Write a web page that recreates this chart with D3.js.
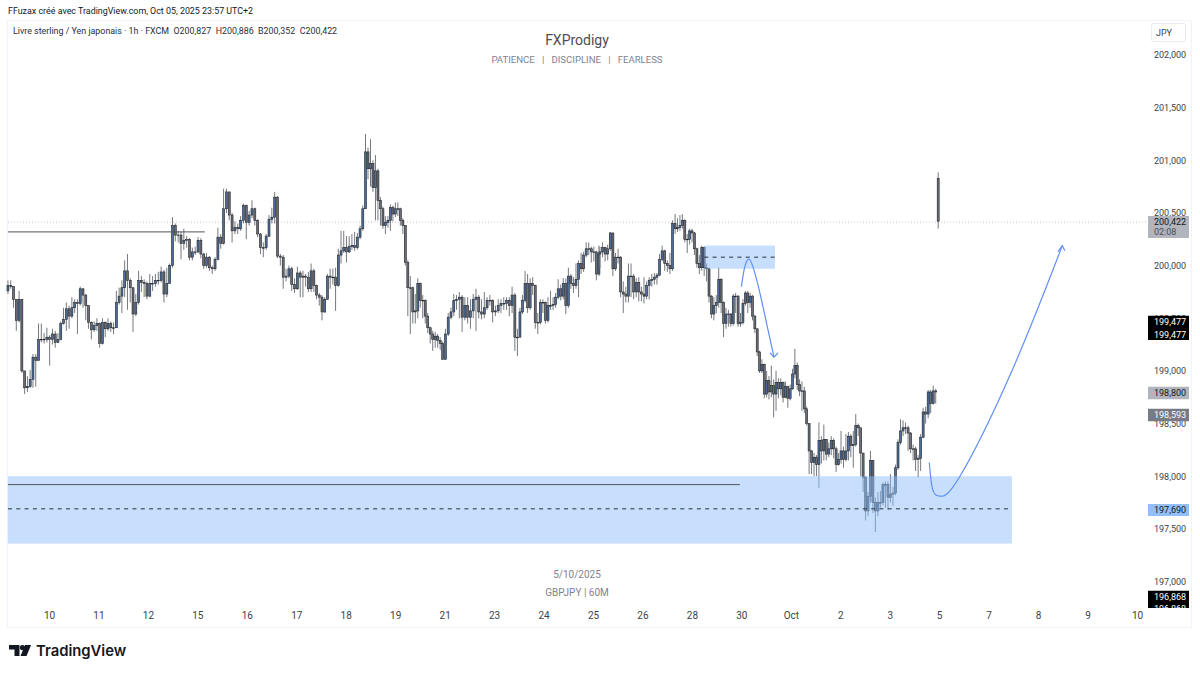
<!DOCTYPE html>
<html>
<head>
<meta charset="utf-8">
<script src="https://cdn.jsdelivr.net/npm/d3@7"></script>
<style>
html, body { margin: 0; background: #fff; }
svg { display: block; font-family: Roboto, sans-serif; }
</style>
</head>
<body>
<svg id="vis" width="1200" height="673"></svg>
<script>
// candles as [close, high, low], open is the previous close
var barsSep = [
[199.81,199.86,199.73],[199.80,199.86,199.78],[199.68,199.80,199.60],[199.48,199.68,199.38],[199.68,199.76,199.46],[199.00,199.68,198.98],[198.84,199.00,198.78],[198.85,198.95,198.80],[198.92,199.01,198.84],[199.13,199.16,198.84],
[199.10,199.16,198.85],[199.30,199.45,199.10],[199.30,199.45,199.27],[199.30,199.36,199.26],[199.32,199.41,199.27],[199.30,199.34,199.05],[199.35,199.40,199.25],[199.27,199.38,199.22],[199.30,199.36,199.27],[199.45,199.47,199.29],
[199.49,199.60,199.44],[199.59,199.65,199.38],[199.52,199.62,199.40],[199.60,199.70,199.50],[199.65,199.68,199.55],[199.64,199.68,199.35],[199.78,199.80,199.62],[199.72,199.78,199.60],[199.62,199.73,199.48],[199.46,199.62,199.40],
[199.39,199.47,199.30],[199.43,199.47,199.37],[199.45,199.50,199.38],[199.26,199.46,199.22],[199.46,199.50,199.25],[199.40,199.47,199.32],[199.45,199.50,199.38],[199.41,199.47,199.37],[199.41,199.46,199.35],[199.65,199.76,199.41],
[199.71,199.79,199.63],[199.79,199.86,199.55],[199.95,200.05,199.70],[199.86,200.11,199.58],[199.79,199.88,199.65],[199.54,199.68,199.37],[199.65,199.73,199.52],[199.86,199.95,199.63],[199.84,199.90,199.75],[199.83,199.87,199.70],
[199.71,199.85,199.68],[199.83,199.92,199.70],[199.83,199.90,199.76],[199.86,199.92,199.80],[199.86,199.94,199.82],[199.94,199.99,199.84],[199.73,199.96,199.65],[199.83,199.98,199.70],[200.00,200.02,199.83],[200.38,200.46,199.98],
[200.29,200.40,200.23],[200.29,200.33,200.22],[200.21,200.32,200.06],[200.24,200.35,200.15],[200.25,200.28,200.17],[200.08,200.26,200.05],[200.13,200.17,200.05],[200.13,200.18,200.10],[200.24,200.27,200.12],[200.11,200.26,200.07],
[200.00,200.12,199.97],[200.08,200.12,199.98],[199.98,200.09,199.95],[199.97,200.00,199.92],[200.06,200.08,199.95],[200.27,200.36,200.05],[200.21,200.30,200.16],[200.54,200.73,200.20],[200.70,200.73,200.50],[200.48,200.70,200.43],
[200.33,200.50,200.22],[200.36,200.42,200.30],[200.35,200.40,200.30],[200.43,200.47,200.33],[200.57,200.59,200.40],[200.41,200.58,200.25],[200.48,200.52,200.38],[200.54,200.62,200.45],[200.43,200.55,200.38],[200.30,200.44,200.27],
[200.17,200.31,200.11],[200.17,200.22,200.08],[200.28,200.30,200.15],[200.44,200.48,200.27],[200.46,200.55,200.40],[200.65,200.70,200.40],[200.09,200.66,200.07],[200.08,200.11,200.00],[199.89,200.10,199.78],[199.90,199.97,199.85],
[199.97,200.00,199.88],[199.82,199.99,199.76],[199.78,199.88,199.74],[199.93,199.99,199.77],[199.89,199.95,199.70]
];
var barsMid = [
[199.90,199.95,199.70],[199.89,199.92,199.80],[199.78,199.94,199.75],[199.95,200.02,199.75],[199.81,199.97,199.75],[199.72,199.82,199.68],[199.70,199.74,199.62],[199.56,199.72,199.48],[199.68,199.70,199.55],[199.90,199.92,199.68],
[199.89,199.97,199.78],[199.89,199.97,199.82],[199.81,199.98,199.57],[200.10,200.16,199.80],[200.14,200.33,200.02],[200.17,200.33,200.12],[200.13,200.28,200.03],[200.18,200.28,200.12],[200.19,200.30,200.15],[200.17,200.32,200.14],
[200.27,200.31,200.15],[200.35,200.38,200.25],[200.54,200.57,200.33],[201.08,201.25,200.62],[200.92,201.12,200.82],[200.97,201.20,200.75],[200.74,201.00,200.70],[200.90,201.05,200.43],[200.62,200.92,200.43],[200.54,200.65,200.38],
[200.38,200.56,200.35],[200.41,200.47,200.30],[200.43,200.47,200.36],[200.55,200.58,200.33],[200.49,200.57,200.42],[200.54,200.60,200.46],[200.54,200.60,200.47],[200.43,200.55,200.38],[200.38,200.45,200.30],[200.03,200.38,200.00],
[199.79,200.05,199.52],[199.79,199.90,199.35],[199.56,199.80,199.45],[199.57,199.73,199.45],[199.83,199.88,199.50],[199.67,199.84,199.60],[199.67,199.72,199.50],[199.52,199.68,199.45],[199.41,199.55,199.36],[199.35,199.42,199.26],
[199.30,199.38,199.19],[199.33,199.37,199.22],[199.29,199.35,199.22],[199.26,199.32,199.20],[199.11,199.28,199.11],[199.35,199.40,199.11],[199.51,199.55,199.33],[199.56,199.60,199.49],[199.67,199.73,199.52],[199.68,199.72,199.58],
[199.70,199.75,199.50],[199.51,199.72,199.37],[199.62,199.70,199.48],[199.51,199.70,199.45],[199.57,199.68,199.40],[199.68,199.73,199.50],[199.70,199.78,199.38],[199.56,199.72,199.50],[199.54,199.68,199.49],[199.60,199.75,199.50],
[199.67,199.70,199.58],[199.67,199.72,199.62],[199.56,199.68,199.46],[199.57,199.62,199.52],[199.62,199.68,199.55],[199.64,199.68,199.55],[199.64,199.70,199.58],[199.67,199.70,199.58],[199.62,199.70,199.52],[199.72,199.80,199.55],
[199.32,199.74,199.19],[199.32,199.40,199.14],[199.56,199.60,199.32],[199.67,199.72,199.54],[199.83,199.95,199.65],[199.60,199.92,199.55],[199.83,199.88,199.58],[199.81,199.89,199.72],[199.46,199.82,199.40],[199.46,199.55,199.35],
[199.65,199.68,199.44],[199.65,199.68,199.55],[199.48,199.66,199.45],[199.62,199.70,199.46],[199.62,199.76,199.58],[199.63,199.70,199.58],[199.70,199.74,199.60],[199.78,199.87,199.68],[199.71,199.82,199.67],[199.83,199.88,199.68],
[199.62,199.88,199.54],[199.90,199.98,199.60],[199.83,199.92,199.78],[199.81,199.89,199.74],[199.87,200.02,199.78],[200.02,200.05,199.70],[199.97,200.12,199.92],[200.10,200.13,199.94],[200.16,200.22,200.08],[200.16,200.22,200.10],
[200.13,200.18,200.03],[200.13,200.18,200.04],[199.92,200.14,199.86],[200.11,200.19,199.90]
];
var barsDrop = [
[200.13,200.18,199.98],[200.17,200.22,200.08],[200.11,200.18,200.04],[200.16,200.20,200.05],[200.31,200.32,200.14],[199.97,200.31,199.90],[200.08,200.12,199.95],[200.08,200.16,200.02],[199.75,200.09,199.70],[199.73,199.85,199.55],
[199.71,199.80,199.65],[199.90,200.02,199.65],[199.90,200.02,199.70],[199.75,199.92,199.68],[199.84,199.88,199.70],[199.75,199.89,199.66],[199.73,199.80,199.66],[199.71,199.89,199.64],[199.81,199.85,199.68],[199.86,199.89,199.68],
[199.87,199.92,199.80],[199.89,199.93,199.82],[199.91,199.93,199.82],[200.06,200.11,199.90],[200.14,200.19,200.04],[200.02,200.15,199.95],[200.00,200.05,199.94],[199.97,200.12,199.92],[200.40,200.43,199.95],[200.35,200.49,200.30],
[200.36,200.45,200.32],[200.38,200.48,200.33],[200.43,200.49,200.35],[200.25,200.44,200.22],[200.25,200.30,200.12],[200.33,200.35,200.20],[200.31,200.35,200.22],[200.16,200.32,200.10],[200.02,200.17,199.98],[199.98,200.10,199.92],
[200.17,200.19,199.95],[199.98,200.18,199.90],[199.97,200.02,199.85],[199.71,199.98,199.65],[199.54,199.72,199.50],[199.62,199.70,199.48],[199.65,199.72,199.55],[199.87,199.98,199.60],[199.65,199.88,199.55],[199.45,199.66,199.32],
[199.54,199.60,199.40],[199.54,199.58,199.42],[199.45,199.55,199.42],[199.71,199.73,199.43],[199.71,199.74,199.55],[199.45,199.72,199.42],[199.46,199.55,199.42],[199.64,199.68,199.44],[199.74,199.76,199.62],[199.65,199.76,199.55],
[199.71,199.74,199.60],[199.52,199.72,199.48],[199.40,199.53,199.36],[199.18,199.40,199.14],[199.00,199.19,198.98],[199.06,199.11,198.98],[198.78,199.07,198.74],[198.91,199.00,198.75],[198.80,198.95,198.73],[198.86,199.05,198.75],
[198.78,198.92,198.56],[198.89,199.00,198.62],[198.83,198.93,198.74],[198.89,198.93,198.77],[198.75,198.90,198.70],[198.85,198.90,198.74],[198.74,198.86,198.65],[198.83,198.87,198.72],[198.97,199.02,198.82],[199.05,199.21,198.93],
[198.87,199.08,198.82],[198.81,198.92,198.76],[198.81,198.90,198.62],[198.64,198.85,198.60],[198.50,198.66,198.48]
];
var barsBase = [
[198.24,198.50,198.02],[198.13,198.25,198.02],[198.18,198.22,198.00],[198.11,198.20,198.00],[198.34,198.51,197.89],[198.24,198.38,198.12],[198.35,198.49,198.15],[198.21,198.34,198.15],[198.26,198.32,198.18],[198.34,198.38,198.20],
[198.26,198.36,198.17],[198.11,198.28,198.04],[198.16,198.22,198.10],[198.24,198.43,198.12],[198.16,198.28,198.08],[198.24,198.40,198.14],[198.38,198.42,198.15],[198.29,198.40,198.18],[198.30,198.43,198.08],[198.48,198.59,198.28],
[198.46,198.50,198.38],[198.22,198.46,198.00],[197.99,198.22,197.85],[197.67,198.00,197.58],[197.81,197.85,197.62],[198.15,198.24,197.75],[197.75,198.15,197.65],[197.67,197.80,197.47],[197.75,197.85,197.62],[197.75,197.86,197.70],
[197.92,197.94,197.72],[197.92,197.95,197.70],[197.80,197.95,197.68],[197.83,198.02,197.75],[197.84,197.90,197.72],[198.08,198.11,197.82],[198.32,198.35,198.06],[198.43,198.54,198.30],[198.46,198.53,198.38],[198.46,198.51,198.40],
[198.41,198.48,198.24],[198.26,198.42,198.22],[198.26,198.30,198.15],[198.16,198.28,198.05],[198.17,198.20,197.99],[198.37,198.40,198.05],[198.61,198.65,198.36],[198.59,198.66,198.50],[198.80,198.82,198.55],[198.69,198.82,198.60],
[198.81,198.86,198.68],[198.80,198.83,198.69]
];
var lastOpen = 200.827, lastHigh = 200.886, lastLow = 200.352, lastClose = 200.422;

// bar number -> position in day-label steps
var barStops = [0, 50, 104, 128, 159, 185, 218, 219, 248, 278, 303, 304, 331, 355];
var stepStops = [-0.83, 1.98, 5.08, 6.40, 7.96, 9.42, 11.12, 11.14, 12.66, 14.13, 15.32, 15.37, 16.71, 17.93];
var lastBarStep = 17.98;

var dayLabels = ["10","11","12","15","16","17","18","19","21","23","24","25","26","28","30","Oct","2","3","5","7","8","9","10"];
var priceTicks = [197, 197.5, 198, 198.5, 199, 199.5, 200, 200.5, 201, 201.5, 202];

var bigZone = [-0.83, 19.47, 197.36, 198.00];
var smallZone = [13.25, 14.68, 199.97, 200.19];
var bigDash = 197.69, smallDash = 200.08;
var supportLine = [-0.83, 13.97, 197.92];
var resistLine = [-0.83, 3.15, 200.32];

var dropCurve = [[14.0,199.80],[14.07,199.99],[14.16,200.06],[14.26,199.95],[14.38,199.73],[14.52,199.43],[14.66,199.13]];
var dropHead = [[14.58,199.17],[14.66,199.13],[14.74,199.17]];
var riseCurve = [[17.80,198.13],[17.87,197.87],[18.02,197.81],[18.42,198.00],[19.47,199.00],[20.49,200.19]];
var riseHead = [[20.40,200.13],[20.49,200.19],[20.54,200.14]];

var svg = d3.select("#vis");
var x = d3.scaleLinear().domain([0, dayLabels.length - 1]).range([49, 1137]);
var y = d3.scaleLinear().domain([197, 202]).range([581.5, 55]);
var barStep = d3.scaleLinear().domain(barStops).range(stepStops);

var bars = d3.merge([barsSep, barsMid, barsDrop, barsBase]);
var candles = bars.map(function(b, i) {
  return { step: barStep(i), open: i ? bars[i - 1][0] : 199.76, close: b[0], high: b[1], low: b[2] };
});
candles.push({ step: lastBarStep, open: lastOpen, close: lastClose, high: lastHigh, low: lastLow });

var priceText = function(p) { return d3.format(".3f")(p).replace(".", ","); };

// frame
svg.append("rect").attr("x", 7.5).attr("y", 20.5).attr("width", 1184).attr("height", 607)
  .attr("fill", "none").attr("stroke", "#f0f3fa");

// last price line
svg.append("line").attr("x1", 8).attr("x2", 1148).attr("y1", y(lastClose) + 1).attr("y2", y(lastClose) + 1)
  .attr("stroke", "#c4c6cc").attr("stroke-dasharray", "1 2");

// candles
var c = svg.append("g").selectAll("g").data(candles).join("g");
c.append("line")
  .attr("x1", function(d) { return x(d.step); })
  .attr("x2", function(d) { return x(d.step); })
  .attr("y1", function(d) { return y(Math.max(d.high, d.open, d.close)); })
  .attr("y2", function(d) { return y(Math.min(d.low, d.open, d.close)); })
  .attr("stroke", "#75787f").attr("stroke-width", 1);
c.append("rect")
  .attr("x", function(d) { return x(d.step) - 1; })
  .attr("width", 2)
  .attr("y", function(d) { return y(Math.max(d.open, d.close)); })
  .attr("height", function(d) { return Math.max(0.6, Math.abs(y(d.open) - y(d.close))); })
  .attr("fill", function(d) { return d.close >= d.open ? "#4a6f9c" : "#6a6d75"; })
  .attr("stroke", "#26272c").attr("stroke-width", 0.6);

function zone(z) {
  svg.append("rect").attr("x", x(z[0])).attr("width", x(z[1]) - x(z[0]))
    .attr("y", y(z[3])).attr("height", y(z[2]) - y(z[3]))
    .attr("fill", "#90bff9").attr("fill-opacity", 0.5);
}
zone(bigZone);
zone(smallZone);

function hline(x0, x1, p, dash, color) {
  svg.append("line").attr("x1", x(x0)).attr("x2", x(x1)).attr("y1", y(p)).attr("y2", y(p))
    .attr("stroke", color).attr("stroke-width", 1).attr("stroke-dasharray", dash);
}
hline(supportLine[0], supportLine[1], supportLine[2], null, "#50535b");
hline(resistLine[0], resistLine[1], resistLine[2], null, "#50535b");
hline(bigZone[0], bigZone[1], bigDash, "4 4.3", "#2a2e39");
hline(smallZone[0], smallZone[1], smallDash, "4 4.3", "#2a2e39");

// hand drawn arrows
var curve = d3.line().x(function(d) { return x(d[0]); }).y(function(d) { return y(d[1]); }).curve(d3.curveNatural);
var straight = d3.line().x(function(d) { return x(d[0]); }).y(function(d) { return y(d[1]); });
[[dropCurve, curve], [dropHead, straight], [riseCurve, curve], [riseHead, straight]].forEach(function(a) {
  svg.append("path").attr("d", a[1](a[0])).attr("fill", "none")
    .attr("stroke", "#5f8ff5").attr("stroke-width", 1.2);
});

// axes
var priceAxis = svg.append("g").attr("transform", "translate(1154,0)")
  .call(d3.axisRight(y).tickValues(priceTicks).tickSize(0).tickPadding(0).tickFormat(priceText));
priceAxis.select(".domain").remove();
priceAxis.selectAll("text").attr("fill", "#3b3f4a").style("font-size", "9px").style("font-family", "Roboto");

var timeAxis = svg.append("g").attr("transform", "translate(0,612)")
  .call(d3.axisBottom(x).tickValues(d3.range(dayLabels.length)).tickSize(0).tickPadding(0)
    .tickFormat(function(i) { return dayLabels[i]; }));
timeAxis.select(".domain").remove();
timeAxis.selectAll("text").attr("fill", "#3b3f4a").style("font-size", "10px").style("font-family", "Roboto");

// price tags
var clipId = 0;
function tag(top, bottom, fill, lines) {
  var id = "tag" + (clipId++);
  svg.append("clipPath").attr("id", id).append("rect").attr("x", 1148).attr("y", top).attr("width", 41).attr("height", bottom - top);
  var g = svg.append("g").attr("clip-path", "url(#" + id + ")");
  g.append("rect").attr("x", 1148).attr("y", top).attr("width", 41).attr("height", bottom - top).attr("fill", fill);
  lines.forEach(function(l) {
    g.append("text").attr("x", 1154).attr("y", l[1]).attr("dy", "0.35em")
      .attr("fill", l[2]).style("font-size", "9px").text(l[0]);
  });
}
tag(216, 238, "#b2b5be", [[priceText(lastClose), 222, "#131722"], ["02:08", 232, "#4a4d57"]]);
tag(315.5, 340, "#000", [[priceText(199.477), 311.5, "#fff"], [priceText(199.477), 321.5, "#fff"], [priceText(199.477), 334.5, "#fff"]]);
tag(386.5, 399.5, "#b2b5be", [[priceText(198.8), 393, "#131722"]]);
tag(408.5, 421.5, "#787b86", [[priceText(198.593), 415, "#fff"]]);
tag(504, 516, "#90bff9", [[priceText(197.69), 510, "#131722"]]);
tag(590.5, 608, "#000", [[priceText(196.868), 596.5, "#fff"], [priceText(196.868), 609, "#fff"]]);

// currency button
svg.append("rect").attr("x", 1151.5).attr("y", 23.5).attr("width", 34).attr("height", 18).attr("rx", 2)
  .attr("fill", "#fff").attr("stroke", "#e9ebf1");
svg.append("text").attr("x", 1164).attr("y", 32.5).attr("dy", "0.35em").attr("text-anchor", "middle")
  .attr("fill", "#3b3f4a").style("font-size", "9px").text("JPY");

// header and notes
function label(str, tx, ty, size, color, anchor) {
  return svg.append("text").attr("x", tx).attr("y", ty).attr("dy", "0.35em")
    .attr("text-anchor", anchor || "start").attr("fill", color).style("font-size", size + "px").style("white-space", "pre").text(str);
}
label("FFuzax créé avec TradingView.com, Oct 05, 2025 23:57 UTC+2", 8, 10.5, 8.9, "#131722");
label("Livre sterling / Yen japonais · 1h · FXCM  O200,827  H200,886  B200,352  C200,422", 13, 30.5, 8.9, "#2a2e39");
label("FXProdigy", 577, 40, 14, "#4a4d57", "middle");
label("PATIENCE   |   DISCIPLINE   |   FEARLESS", 577, 60, 9.6, "#7f838e", "middle");
label("5/10/2025", 577, 574, 10, "#7f838e", "middle");
label("GBPJPY | 60M", 577, 592, 10, "#7f838e", "middle");

// logo
var logo = svg.append("g").attr("fill", "#131722");
logo.append("path").attr("d", "M9 645h10.5v11h-5v-6.5h-5.5z");
logo.append("circle").attr("cx", 22.5).attr("cy", 647.6).attr("r", 2.6);
logo.append("path").attr("d", "M20.5 656l4.6-11h6l-4.6 11z");
svg.append("text").attr("x", 36).attr("y", 651).attr("dy", "0.35em").attr("fill", "#131722")
  .style("font-size", "14.8px").style("font-weight", 600).style("font-family", "Inter, Roboto").text("TradingView");
</script>
</body>
</html>
